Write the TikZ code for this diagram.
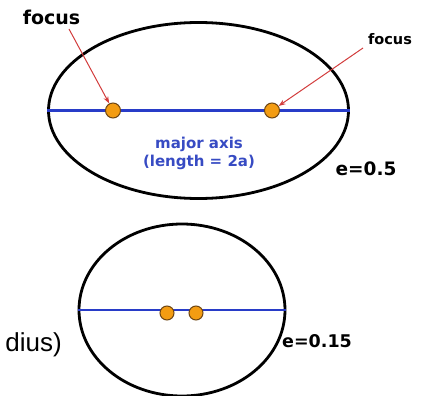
\documentclass[tikz,border=0pt]{standalone}
\usepackage{fontspec}
\setmainfont{DejaVu Sans}
\newfontfamily\plainsans{Liberation Sans}
\usetikzlibrary{shapes.geometric,arrows.meta}
\definecolor{axisblue}{RGB}{40,60,200}
\definecolor{textblue}{RGB}{55,75,195}
\definecolor{focusorange}{RGB}{243,156,18}
\definecolor{focusedge}{RGB}{110,70,20}
\definecolor{arrowred}{RGB}{210,60,60}
\tikzset{
  orbit/.style={ellipse, draw=black, line width=2.8pt, inner sep=0pt},
  axisline/.style={draw=axisblue, line width=2.2pt},
  focusdot/.style={circle, fill=focusorange, draw=focusedge, line width=1pt, minimum size=15pt, inner sep=0pt},
  pointer/.style={draw=arrowred, line width=1pt, -{Stealth[length=7pt,width=5pt]}},
  boldlabel/.style={inner sep=0pt, anchor=base},
}
\begin{document}
\begin{tikzpicture}[x=1pt,y=-1pt]
\useasboundingbox (0,0) rectangle (426,396);
% top ellipse
\node[orbit, minimum width=300pt, minimum height=176pt] (e1) at (198.5,110.5) {};
\draw[axisline] (e1.west) -- (e1.east);
\node[focusdot] (f1) at (113,110.5) {};
\node[focusdot] (f2) at (272,110.5) {};
\node[boldlabel, font=\bfseries\fontsize{19}{19}\selectfont] (l1) at (51.5,25) {focus};
\node[boldlabel, font=\bfseries\fontsize{14.5}{14.5}\selectfont] (l2) at (390,45) {focus};
\coordinate (a1) at (69,29);
\coordinate (a2) at (363,48);
\draw[pointer] (a1) -- (f1);
\draw[pointer] (a2) -- (f2);
\node[inner sep=0pt, text=textblue, align=center, font=\bfseries\fontsize{15}{18}\selectfont] (ma) at (199,153) {major axis\\(length = 2a)};
\node[boldlabel, font=\bfseries\fontsize{18.5}{18.5}\selectfont] (e05) at (366,175) {e=0.5};
% bottom ellipse
\node[orbit, minimum width=206pt, minimum height=172pt] (e2) at (182,310) {};
\draw[axisline] (e2.west) -- (e2.east);
\node[focusdot, minimum size=14pt] (g1) at (167,313) {};
\node[focusdot, minimum size=14pt] (g2) at (196,313) {};
\node[boldlabel, font=\bfseries\fontsize{17.5}{17.5}\selectfont, anchor=base west] (e015) at (282,347) {e=0.15};
\node[inner sep=0pt, anchor=base east, font=\plainsans\fontsize{26}{26}\selectfont] (rad) at (62,351) {dius)};
\end{tikzpicture}
\end{document}
